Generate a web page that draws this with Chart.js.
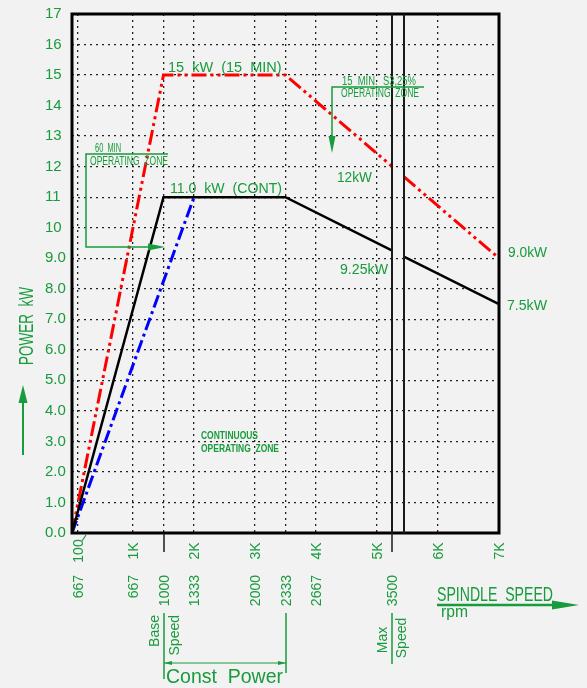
<!DOCTYPE html>
<html>
<head>
<meta charset="utf-8">
<script src="https://cdn.jsdelivr.net/npm/chart.js@4.4.0/dist/chart.umd.min.js"></script>
<style>
  html, body { margin: 0; padding: 0; background: #f2f2f2; }
</style>
</head>
<body>
<canvas id="spindleChart" width="587" height="688"></canvas>
<script>
// motor rpm on the x axis, power in kW on the y axis
// null entry = break at max spindle speed (double line)
const contSpeed = [0, 1500, 3500, 5250, 5345, 5440, 7000];
const contPower = [0, 11, 11, 9.25, null, 9.05, 7.5];
const min15Speed = [0, 1500, 3500, 5250, 5345, 5440, 7000];
const min15Power = [0, 15, 15, 12, null, 11.67, 9.0];
const min60Speed = [0, 2000];
const min60Power = [0, 11];

const gridSpeeds = [100, 1000, 1500, 2000, 3000, 3500, 4000, 5000, 6000];
const breakSpeeds = [5250, 5440];
const markSpeeds = [1500, 5250]; // base speed / max speed

const motorTicks = [100, 1000, 2000, 3000, 4000, 5000, 6000, 7000];
const motorLabels = ['100', '1K', '2K', '3K', '4K', '5K', '6K', '7K'];
const spindleTicks = [100, 1000, 1500, 2000, 3000, 3500, 4000, 5250];
const spindleLabels = ['667', '667', '1000', '1333', '2000', '2333', '2667', '3500'];
const yTickLabels = ['0.0', '1.0', '2.0', '3.0', '4.0', '5.0', '6.0', '7.0', '8.0', '9.0',
  '10', '11', '12', '13', '14', '15', '16', '17'];

const GREEN = '#179b3c';
const FONT = '"Liberation Sans", Arial, sans-serif';

function pts(xs, ys) {
  return xs.map((x, i) => ({ x: x, y: ys[i] }));
}

function txt(ctx, str, x, y, size, opts = {}) {
  ctx.save();
  ctx.font = (opts.bold ? 'bold ' : '') + size + 'px ' + FONT;
  ctx.fillStyle = opts.color || GREEN;
  ctx.textAlign = opts.align || 'left';
  ctx.textBaseline = 'alphabetic';
  ctx.translate(x, y);
  if (opts.rotate) ctx.rotate(-Math.PI / 2);
  if (opts.width) ctx.fillText(str, 0, 0, opts.width);
  else ctx.fillText(str, 0, 0);
  ctx.restore();
}

function line(ctx, coords, width, color) {
  ctx.save();
  ctx.strokeStyle = color || GREEN;
  ctx.lineWidth = width;
  ctx.beginPath();
  ctx.moveTo(coords[0], coords[1]);
  for (let i = 2; i < coords.length; i += 2) ctx.lineTo(coords[i], coords[i + 1]);
  ctx.stroke();
  ctx.restore();
}

function tri(ctx, coords, color) {
  ctx.save();
  ctx.fillStyle = color || GREEN;
  ctx.beginPath();
  ctx.moveTo(coords[0], coords[1]);
  ctx.lineTo(coords[2], coords[3]);
  ctx.lineTo(coords[4], coords[5]);
  ctx.closePath();
  ctx.fill();
  ctx.restore();
}

const framePlugin = {
  id: 'frame',
  afterDatasetsDraw(chart) {
    const { ctx, chartArea: a, scales: { x } } = chart;
    ctx.save();
    ctx.strokeStyle = '#000';
    ctx.lineWidth = 3;
    ctx.strokeRect(a.left, a.top, a.right - a.left, a.bottom - a.top);
    ctx.restore();
    breakSpeeds.forEach(v => {
      const px = Math.round(x.getPixelForValue(v));
      line(ctx, [px, a.top, px, a.bottom], 2, '#1a1a1a');
    });
    markSpeeds.forEach(v => {
      const px = Math.round(x.getPixelForValue(v));
      line(ctx, [px, a.bottom, px, a.bottom + 19], 1.5, '#1a1a1a');
    });
  }
};

const notesPlugin = {
  id: 'notes',
  afterDraw(chart) {
    const { ctx, chartArea: a, scales: { x } } = chart;

    // x tick labels, two rows
    motorTicks.forEach((v, i) => {
      const px = x.getPixelForValue(v);
      txt(ctx, motorLabels[i], px + 5, a.bottom + 18, 14, { rotate: true, align: 'center' });
    });
    spindleTicks.forEach((v, i) => {
      const px = x.getPixelForValue(v);
      txt(ctx, spindleLabels[i], px + 5, a.bottom + 42, 14, { rotate: true, align: 'right' });
    });
    line(ctx, [82, 541, 86, 535], 1.2);

    // curve labels
    txt(ctx, '15  kW  (15  MIN)', 168, 72, 14.5, { width: 115 });
    txt(ctx, '11.0  kW  (CONT)', 170, 193, 14.5, { width: 112 });
    txt(ctx, '12kW', 337, 182, 14.5, { width: 35 });
    txt(ctx, '9.25kW', 340, 274, 14.5, { width: 48 });
    txt(ctx, '9.0kW', 508, 257, 14.5, { width: 39 });
    txt(ctx, '7.5kW', 507, 310, 14.5, { width: 40 });

    // 60 min zone
    txt(ctx, '60  MIN', 95, 152, 13, { width: 26 });
    txt(ctx, 'OPERATING  ZONE', 90, 165, 13, { width: 78 });
    line(ctx, [168, 154, 86, 154, 86, 247, 150, 247], 1.5);
    tri(ctx, [148, 243.5, 148, 250.5, 165, 247]);

    // 15 min zone
    txt(ctx, '15  MIN.  S3,25%', 342, 85, 12, { width: 74 });
    txt(ctx, 'OPERATING  ZONE', 341, 97, 12, { width: 78 });
    line(ctx, [424, 87, 332, 87, 332, 138], 1.5);
    tri(ctx, [328.5, 136, 335.5, 136, 332, 153]);

    // continuous zone
    txt(ctx, 'CONTINUOUS', 201, 439, 11.5, { bold: true, width: 57 });
    txt(ctx, 'OPERATING  ZONE', 201, 452, 11.5, { bold: true, width: 78 });

    // y axis title
    txt(ctx, 'POWER  kW', 33, 326, 20, { rotate: true, align: 'center', width: 78 });
    line(ctx, [23, 455, 23, 398], 2);
    tri(ctx, [18.5, 403, 27.5, 403, 23, 385]);

    // base speed / const power
    const bx = Math.round(x.getPixelForValue(markSpeeds[0]));
    const cx = Math.round(x.getPixelForValue(3500));
    txt(ctx, 'Base', bx - 5, 615, 14, { rotate: true, align: 'right' });
    txt(ctx, 'Speed', bx + 15, 615, 14, { rotate: true, align: 'right' });
    line(ctx, [bx, 613, bx, 679], 1.5);
    line(ctx, [cx, 613, cx, 673], 1.5);
    line(ctx, [bx, 663, cx, 663], 1.2);
    tri(ctx, [bx, 663, bx + 8, 661, bx + 8, 665]);
    tri(ctx, [cx, 663, cx - 8, 661, cx - 8, 665]);
    txt(ctx, 'Const  Power', bx + 2, 683, 19.5, { width: 117 });

    // max speed
    const mx = Math.round(x.getPixelForValue(markSpeeds[1]));
    txt(ctx, 'Max', mx - 5, 640, 14, { rotate: true, align: 'center' });
    txt(ctx, 'Speed', mx + 14, 638, 14, { rotate: true, align: 'center' });
    line(ctx, [mx, 613, mx, 664], 1.5);

    // x axis title
    txt(ctx, 'SPINDLE  SPEED', 437, 601, 19.5, { width: 116 });
    line(ctx, [437, 605, 556, 605], 2.5);
    tri(ctx, [552, 600.5, 552, 609.5, 579, 605]);
    txt(ctx, 'rpm', 441, 617, 16, { width: 27 });
  }
};

const ctx = document.getElementById('spindleChart');

const spindleChart = new Chart(ctx, {
  type: 'line',
  data: {
    datasets: [
      {
        label: '11.0 kW (CONT)',
        data: pts(contSpeed, contPower),
        borderColor: '#000',
        borderWidth: 2.5,
      },
      {
        label: '15 kW (15 MIN)',
        data: pts(min15Speed, min15Power),
        borderColor: '#ff0000',
        borderWidth: 3,
        borderDash: [15, 4, 3, 4, 3, 4],
      },
      {
        label: '60 MIN',
        data: pts(min60Speed, min60Power),
        borderColor: '#0000ff',
        borderWidth: 3,
        borderDash: [13, 4, 3, 4],
      },
    ],
  },
  options: {
    responsive: false,
    animation: false,
    devicePixelRatio: 1,
    spanGaps: false,
    elements: { point: { radius: 0 }, line: { tension: 0, borderCapStyle: 'butt' } },
    layout: { padding: { left: 45, right: 88, top: 14, bottom: 155 } },
    plugins: { legend: { display: false }, tooltip: { enabled: false } },
    scales: {
      x: {
        type: 'linear',
        min: 0,
        max: 7000,
        afterBuildTicks: s => { s.ticks = gridSpeeds.map(v => ({ value: v })); },
        afterFit: s => { s.height = 0; },
        ticks: { display: false },
        grid: { color: '#222', lineWidth: 1.3, drawTicks: false },
        border: { display: false, dash: [2, 4] },
      },
      y: {
        min: 0,
        max: 17,
        afterFit: s => { s.width = 27; },
        ticks: {
          stepSize: 1,
          crossAlign: 'far',
          color: GREEN,
          font: { family: FONT, size: 15 },
          callback: v => yTickLabels[v],
        },
        grid: { color: '#222', lineWidth: 1.3, drawTicks: false },
        border: { display: false, dash: [2, 4] },
      },
    },
  },
  plugins: [framePlugin, notesPlugin],
});
</script>
</body>
</html>
